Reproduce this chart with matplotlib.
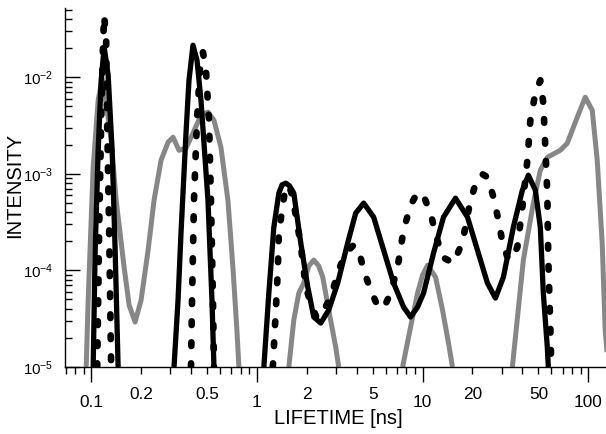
import numpy as np
import matplotlib
matplotlib.use("Agg")
import matplotlib.pyplot as plt
from matplotlib.ticker import LogLocator, FuncFormatter, NullFormatter

plt.rcParams['font.family'] = ['Liberation Sans', 'DejaVu Sans']
plt.rcParams['mathtext.fontset'] = 'custom'
plt.rcParams['mathtext.rm'] = 'Liberation Sans'
plt.rcParams['mathtext.it'] = 'Liberation Sans:italic'
plt.rcParams['mathtext.bf'] = 'Liberation Sans:bold'

nan = np.nan

# lifetime distributions (lifetime in ns, intensity)
# nan separates the pieces that drop below the axis
gray_t = [0.0933, 0.0959, 0.1028, 0.1102, 0.1165, 0.1248, 0.1320, 0.1415, 0.1580, 0.1694,
          0.1841, 0.2001, 0.2206, 0.2396, 0.2641, 0.2910, 0.3119, 0.3389, 0.3735, 0.4116,
          0.4599, 0.5068, 0.5508, 0.6069, 0.6688, 0.7168, 0.7577, 0.7790,
          nan,
          1.559, 1.671, 1.791, 1.919, 2.057, 2.205, 2.363, 2.498, 2.715, 2.991, 3.119,
          nan,
          7.577, 8.467, 9.330, 10.00, 10.72, 11.98, 13.20, 14.34, 15.16,
          nan,
          34.84, 40.59, 46.64, 51.38, 56.62, 67.82, 74.71, 85.84, 95.92, 105.7, 113.3, 121.4, 126.6, 132.0]
gray_i = [1.0e-5, 4.93e-5, 1.17e-3, 5.77e-3, 9.74e-3, 4.55e-3, 2.23e-3, 5.33e-4, 1.08e-4, 4.38e-5,
          2.92e-5, 4.93e-5, 1.62e-4, 5.33e-4, 1.38e-3, 2.12e-3, 2.39e-3, 1.75e-3, 1.84e-3, 2.63e-3,
          4.04e-3, 4.34e-3, 3.58e-3, 1.88e-3, 5.33e-4, 1.08e-4, 2.41e-5, 1.0e-5,
          nan,
          1.0e-5, 3.06e-5, 5.82e-5, 7.39e-5, 1.11e-4, 1.28e-4, 1.11e-4, 8.52e-5, 3.89e-5, 1.61e-5, 1.0e-5,
          nan,
          1.0e-5, 2.59e-5, 5.82e-5, 8.94e-5, 1.13e-4, 8.52e-5, 3.89e-5, 1.77e-5, 1.0e-5,
          nan,
          1.0e-5, 1.28e-4, 4.97e-4, 1.09e-3, 1.48e-3, 1.75e-3, 2.07e-3, 3.85e-3, 6.20e-3, 4.55e-3,
          1.38e-3, 1.92e-4, 2.41e-5, 1.0e-5]

solid_t = [0.1028, 0.1057, 0.1102, 0.1149, 0.1198, 0.1266, 0.1338, 0.1395, 0.1454,
           nan,
           0.3162, 0.3344, 0.3484, 0.3735, 0.3893, 0.4116, 0.4351, 0.4599, 0.5068, 0.5357, 0.5508,
           nan,
           1.102, 1.181, 1.266, 1.357, 1.420, 1.495, 1.575, 1.671, 1.841, 2.029, 2.205, 2.429,
           2.715, 3.076, 3.533, 3.948, 4.412, 5.068, 5.822, 6.688, 7.683, 8.467,
           9.330, 10.14, 11.65, 13.38, 15.80, 18.67, 21.45, 24.64, 27.54, 30.76,
           35.33, 40.04, 43.51, 47.94, 51.38, 53.57, 56.62, 57.42]
solid_i = [1.0e-5, 1.62e-4, 1.75e-3, 9.29e-3, 2.04e-2, 1.05e-2, 1.75e-3, 1.62e-4, 1.0e-5,
           nan,
           1.0e-5, 4.93e-5, 2.43e-4, 2.63e-3, 9.29e-3, 2.14e-2, 1.50e-2, 5.77e-3, 5.33e-4, 4.93e-5, 1.0e-5,
           nan,
           1.0e-5, 5.82e-5, 2.80e-4, 6.30e-4, 7.70e-4, 7.99e-4, 7.50e-4, 6.30e-4, 1.92e-4, 6.72e-5, 3.29e-5, 2.85e-5,
           3.89e-5, 7.39e-5, 1.92e-4, 3.91e-4, 4.97e-4, 3.56e-4, 1.62e-4, 7.39e-5, 4.17e-5, 3.29e-5,
           4.17e-5, 5.82e-5, 1.51e-4, 3.56e-4, 5.59e-4, 3.56e-4, 1.62e-4, 7.39e-5, 5.17e-5, 8.52e-5,
           2.80e-4, 6.77e-4, 9.67e-4, 6.77e-4, 2.80e-4, 5.82e-5, 1.61e-5, 1.0e-5]

dashed_t = [0.1087, 0.1102, 0.1117, 0.1149, 0.1181, 0.1198, 0.1231, 0.1248, 0.1284, 0.1302, 0.1320,
            nan,
            0.4004, 0.4060, 0.4173, 0.4351, 0.4535, 0.4728, 0.4929, 0.5140, 0.5283, 0.5432, 0.5508,
            nan,
            1.248, 1.302, 1.338, 1.357, 1.434, 1.495, 1.602, 1.718, 1.841, 1.973,
            2.115, 2.298, 2.498, 2.792, 3.119, 3.436, 3.840, 4.117, 4.412, 4.861,
            5.432, 5.903, 6.418, 7.069, 7.683, 8.467, 9.202, 10.00, 11.17, 12.14,
            13.20, 15.37, 17.42, 19.46, 21.45, 22.98, 24.64, 26.78, 28.70, 30.34,
            32.97, 35.33, 37.35, 40.04, 42.91, 44.74, 47.94, 51.38, 53.57, 55.08,
            56.62, 57.42, 59.03, 59.84]
dashed_i = [1.0e-5, 4.93e-5, 2.61e-4, 3.58e-3, 2.41e-2, 4.37e-2, 2.41e-2, 3.58e-3, 2.61e-4, 4.93e-5, 1.0e-5,
            nan,
            1.0e-5, 4.93e-5, 5.33e-4, 3.58e-3, 1.18e-2, 1.81e-2, 1.18e-2, 3.58e-3, 5.33e-4, 4.93e-5, 1.0e-5,
            nan,
            1.0e-5, 3.89e-5, 1.01e-4, 2.43e-4, 4.73e-4, 7.62e-4, 6.77e-4, 3.73e-4, 1.83e-4, 6.72e-5,
            4.59e-5, 3.21e-5, 3.70e-5, 5.29e-5, 1.01e-4, 1.51e-4, 1.83e-4, 1.62e-4, 1.01e-4, 6.25e-5,
            4.07e-5, 4.27e-5, 5.82e-5, 1.08e-4, 2.61e-4, 4.73e-4, 6.15e-4, 6.30e-4, 3.91e-4, 2.21e-4,
            1.37e-4, 1.19e-4, 1.96e-4, 5.33e-4, 9.00e-4, 9.91e-4, 9.22e-4, 5.73e-4, 3.31e-4, 1.96e-4,
            1.28e-4, 1.44e-4, 1.74e-4, 4.51e-4, 1.38e-3, 3.58e-3, 6.82e-3, 9.30e-3, 5.37e-3, 1.88e-3,
            6.30e-4, 1.28e-4, 2.59e-5, 1.0e-5]

fig = plt.figure(figsize=(6.06, 4.34), dpi=100)
ax = fig.add_axes([65 / 606, 67 / 434, 541 / 606, 359 / 434])

ax.plot(gray_t, gray_i, color='#878787', lw=3.6, solid_joinstyle='round', solid_capstyle='butt')
ax.plot(solid_t, solid_i, color='black', lw=3.8, solid_joinstyle='round', solid_capstyle='butt')
ax.plot(dashed_t, dashed_i, color='black', lw=4.8, linestyle=(0, (0.55, 2.6)),
        dash_capstyle='round', dash_joinstyle='round')

ax.set_xscale('log')
ax.set_yscale('log')
ax.set_xlim(0.0695, 128)
ax.set_ylim(1e-5, 0.052)

for side in ['top', 'right']:
    ax.spines[side].set_visible(False)
for side in ['left', 'bottom']:
    ax.spines[side].set_linewidth(1.0)

ax.xaxis.set_major_locator(LogLocator(base=10, numticks=10))
ax.xaxis.set_minor_locator(LogLocator(base=10, subs=np.arange(2, 10), numticks=20))
ax.xaxis.set_major_formatter(FuncFormatter(lambda v, _: f'{v:g}'))


def minor_label(v, _):
    m = v / 10 ** np.floor(np.log10(v) + 1e-9)
    return f'{v:g}' if round(m) in (2, 5) else ''


ax.xaxis.set_minor_formatter(FuncFormatter(minor_label))
ax.yaxis.set_major_locator(LogLocator(base=10, numticks=10))
ax.yaxis.set_minor_locator(LogLocator(base=10, subs=np.arange(2, 10), numticks=20))
ax.yaxis.set_minor_formatter(NullFormatter())

ax.tick_params(axis='x', which='major', direction='out', length=10.8, width=1, pad=9.5, labelsize=12.4)
ax.tick_params(axis='x', which='minor', direction='out', length=5, width=1, pad=9.5, labelsize=12.4)
ax.tick_params(axis='y', which='major', direction='in', length=10.8, width=1, pad=8.6, labelsize=10.8)
ax.tick_params(axis='y', which='minor', direction='in', length=5, width=1)

fig.text(338 / 606, 1 - 419 / 434, 'LIFETIME [ns]', ha='center', va='center', fontsize=14.5)
fig.text(15 / 606, 1 - 185 / 434, 'INTENSITY', ha='center', va='center', rotation=90, fontsize=14.5)

fig.savefig('out.png', dpi=100)
